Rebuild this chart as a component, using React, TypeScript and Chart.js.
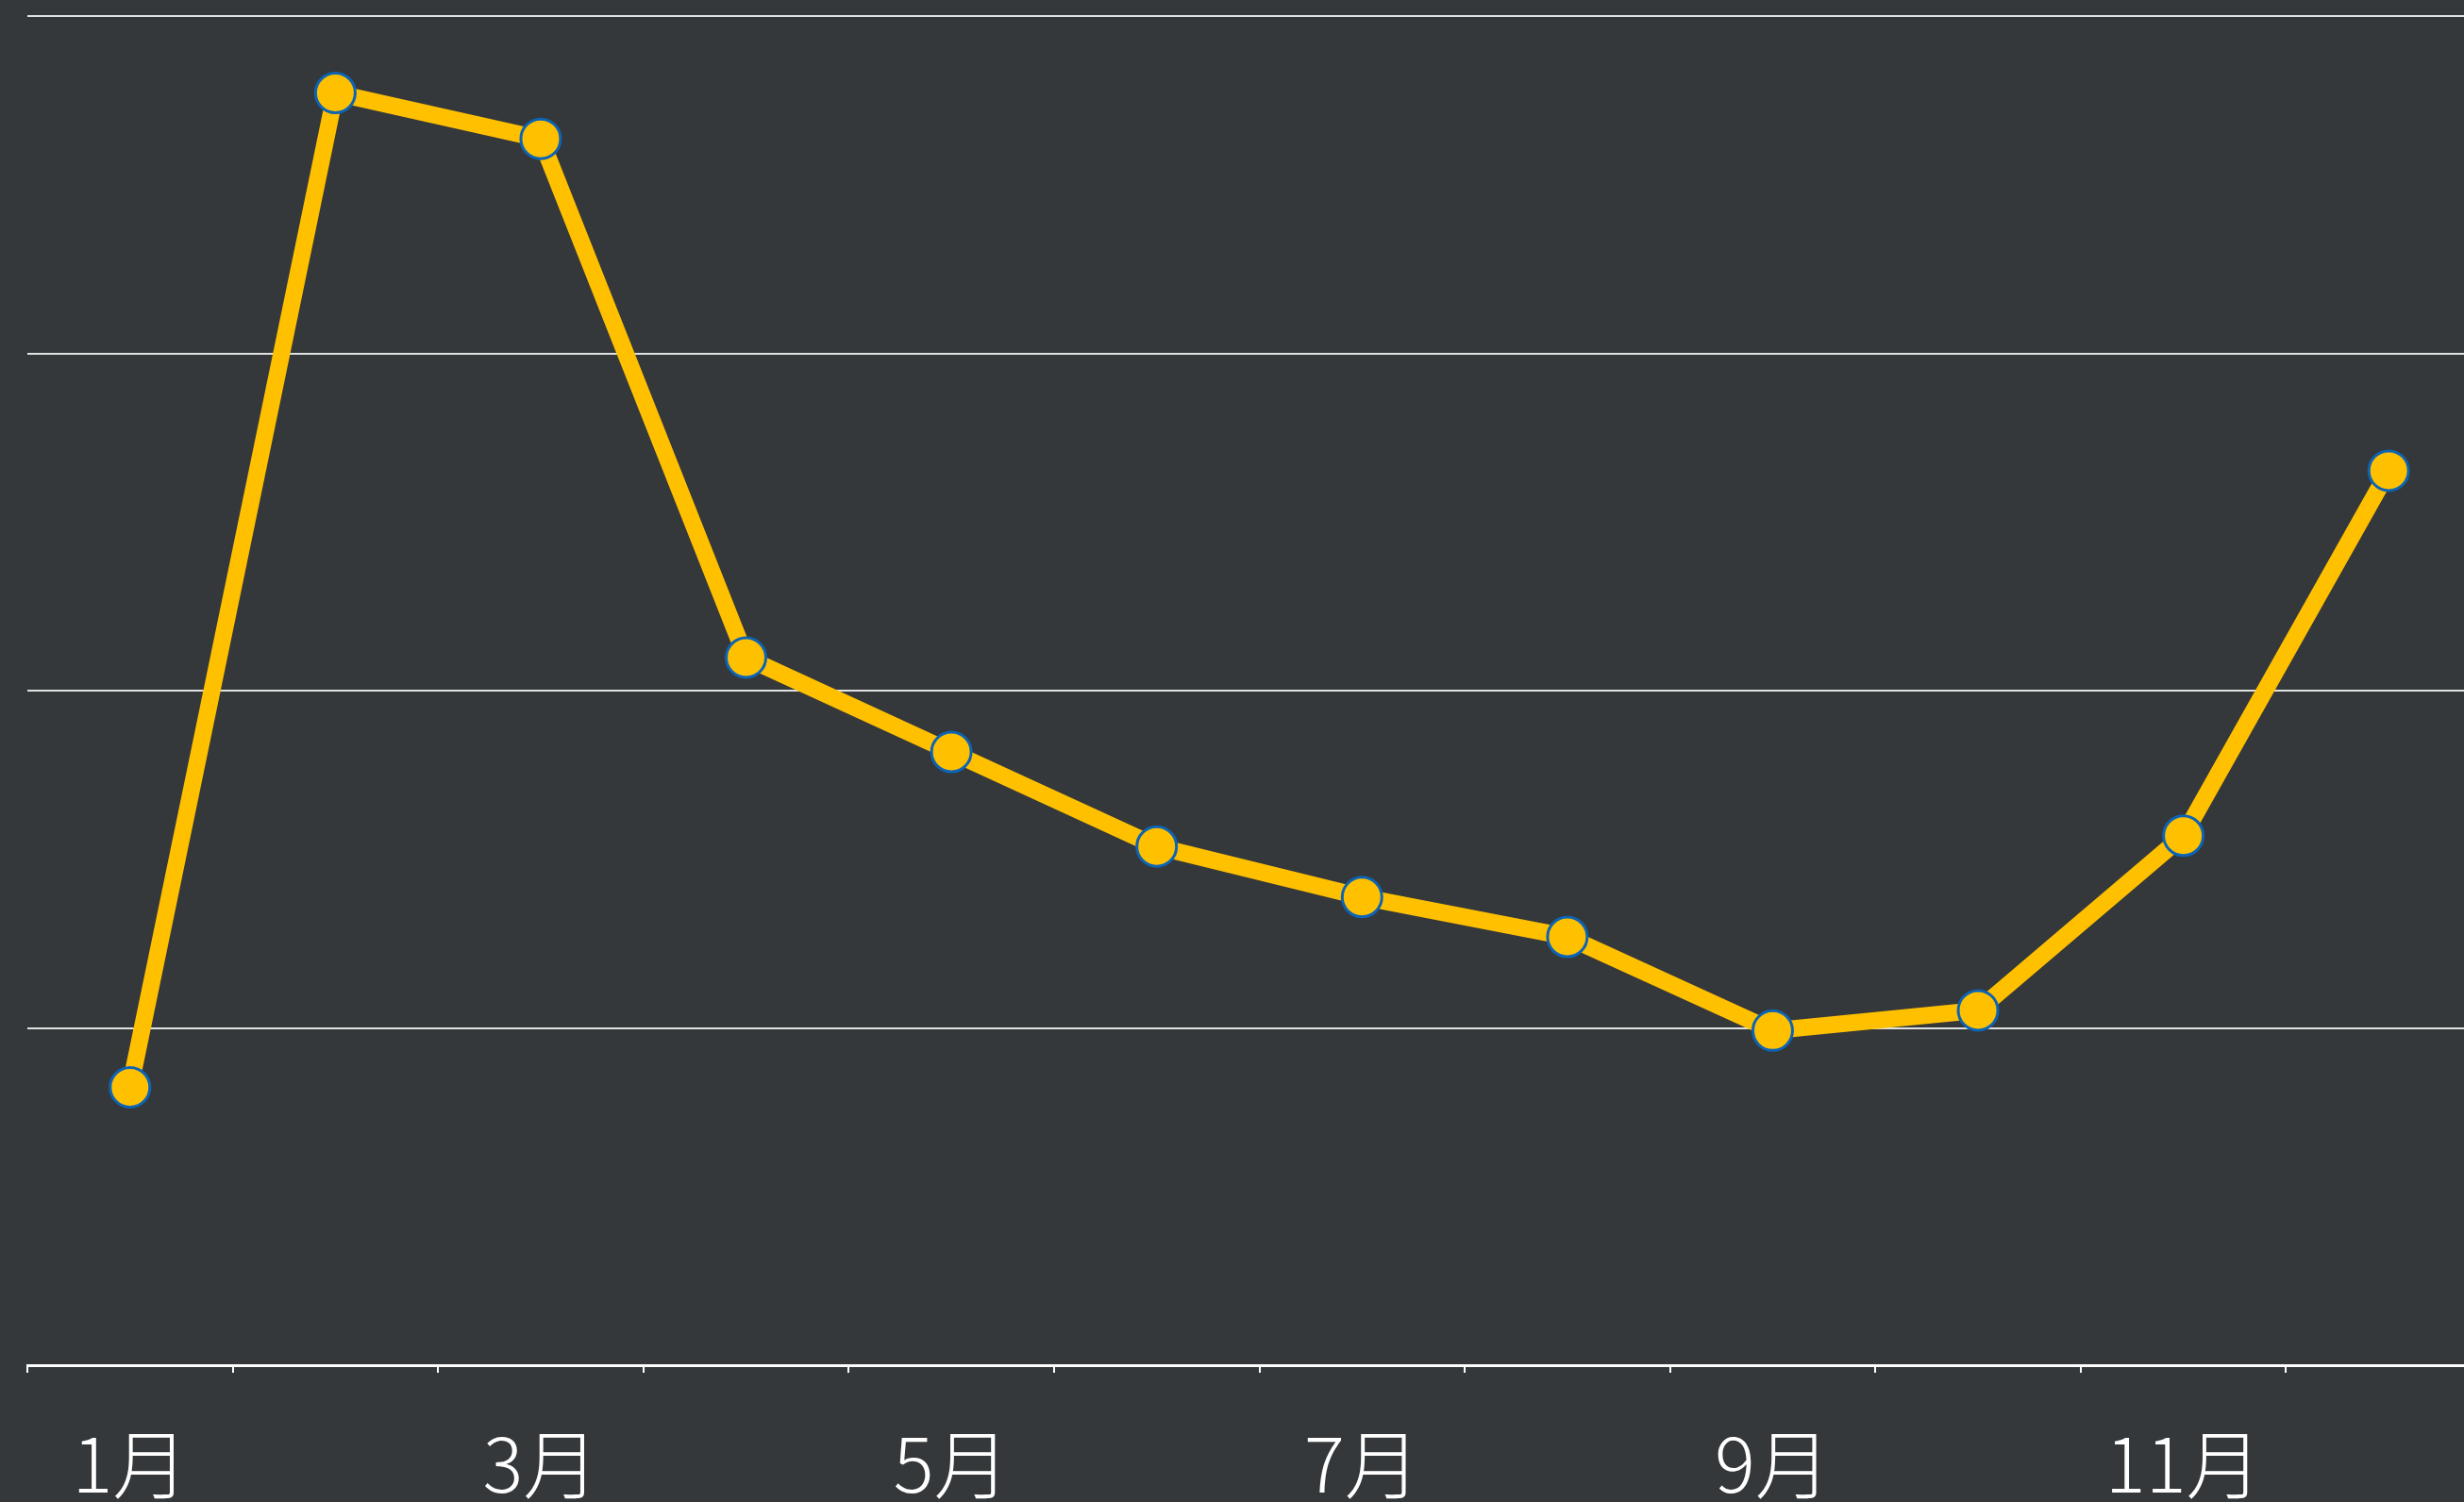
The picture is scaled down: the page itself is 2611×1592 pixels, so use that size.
import React, { useEffect, useRef } from "react";
import { Chart, registerables } from "chart.js";

Chart.register(...registerables);

const months = ["1月", "2月", "3月", "4月", "5月", "6月", "7月", "8月", "9月", "10月", "11月", "12月"];
const values = [41.2, 188.6, 181.8, 104.9, 90.9, 76.9, 69.4, 63.5, 49.6, 52.6, 78.5, 132.6];
const yMin = 0;
const yMax = 200;
const yStep = 50;

const BG = "#34383b";
const LINE = "#ffc000";
const POINT_BORDER = "#0d64b5";

export default function App() {
  const ref = useRef<HTMLCanvasElement | null>(null);

  useEffect(() => {
    if (!ref.current) return;
    const chart = new Chart(ref.current, {
      type: "line",
      data: {
        labels: months,
        datasets: [
          {
            data: values,
            borderColor: LINE,
            borderWidth: 18,
            backgroundColor: LINE,
            pointBackgroundColor: LINE,
            pointBorderColor: POINT_BORDER,
            pointBorderWidth: 3,
            pointRadius: 21,
            tension: 0,
            fill: false,
            clip: false as any,
          },
        ],
      },
      options: {
        responsive: false,
        animation: false,
        devicePixelRatio: 1,
        layout: { autoPadding: false, padding: { left: 29, right: 40, top: 17, bottom: 2 } },
        plugins: { legend: { display: false }, tooltip: { enabled: false } },
        scales: {
          x: {
            type: "category",
            offset: true,
            grid: {
              display: true,
              offset: true,
              drawOnChartArea: false,
              drawTicks: true,
              tickLength: 8,
              color: "#ffffff",
              lineWidth: 2,
            },
            border: { display: true, color: "#ffffff", width: 3 },
            ticks: {
              autoSkip: false,
              maxRotation: 0,
              minRotation: 0,
              padding: 49,
              color: "#ffffff",
              font: { family: "'Noto Sans CJK SC', 'Noto Sans', sans-serif", size: 80, weight: 300 as any, lineHeight: 1.2 },
              callback: (_v: any, i: number) => (i % 2 === 0 ? months[i] : ""),
            },
          },
          y: {
            min: yMin,
            max: yMax,
            grid: { display: true, drawTicks: false, color: "rgba(255,255,255,0.85)", lineWidth: 2 },
            border: { display: false },
            ticks: { display: false, stepSize: yStep },
          },
        },
      },
    });
    return () => chart.destroy();
  }, []);

  return (
    <div style={{ position: "fixed", left: 0, top: 0, right: 0, bottom: 0, overflow: "hidden", background: BG }}>
      <canvas ref={ref} width={2680} height={1651} style={{ position: "absolute", left: 0, top: 0, width: 2680, height: 1651 }} />
    </div>
  );
}
